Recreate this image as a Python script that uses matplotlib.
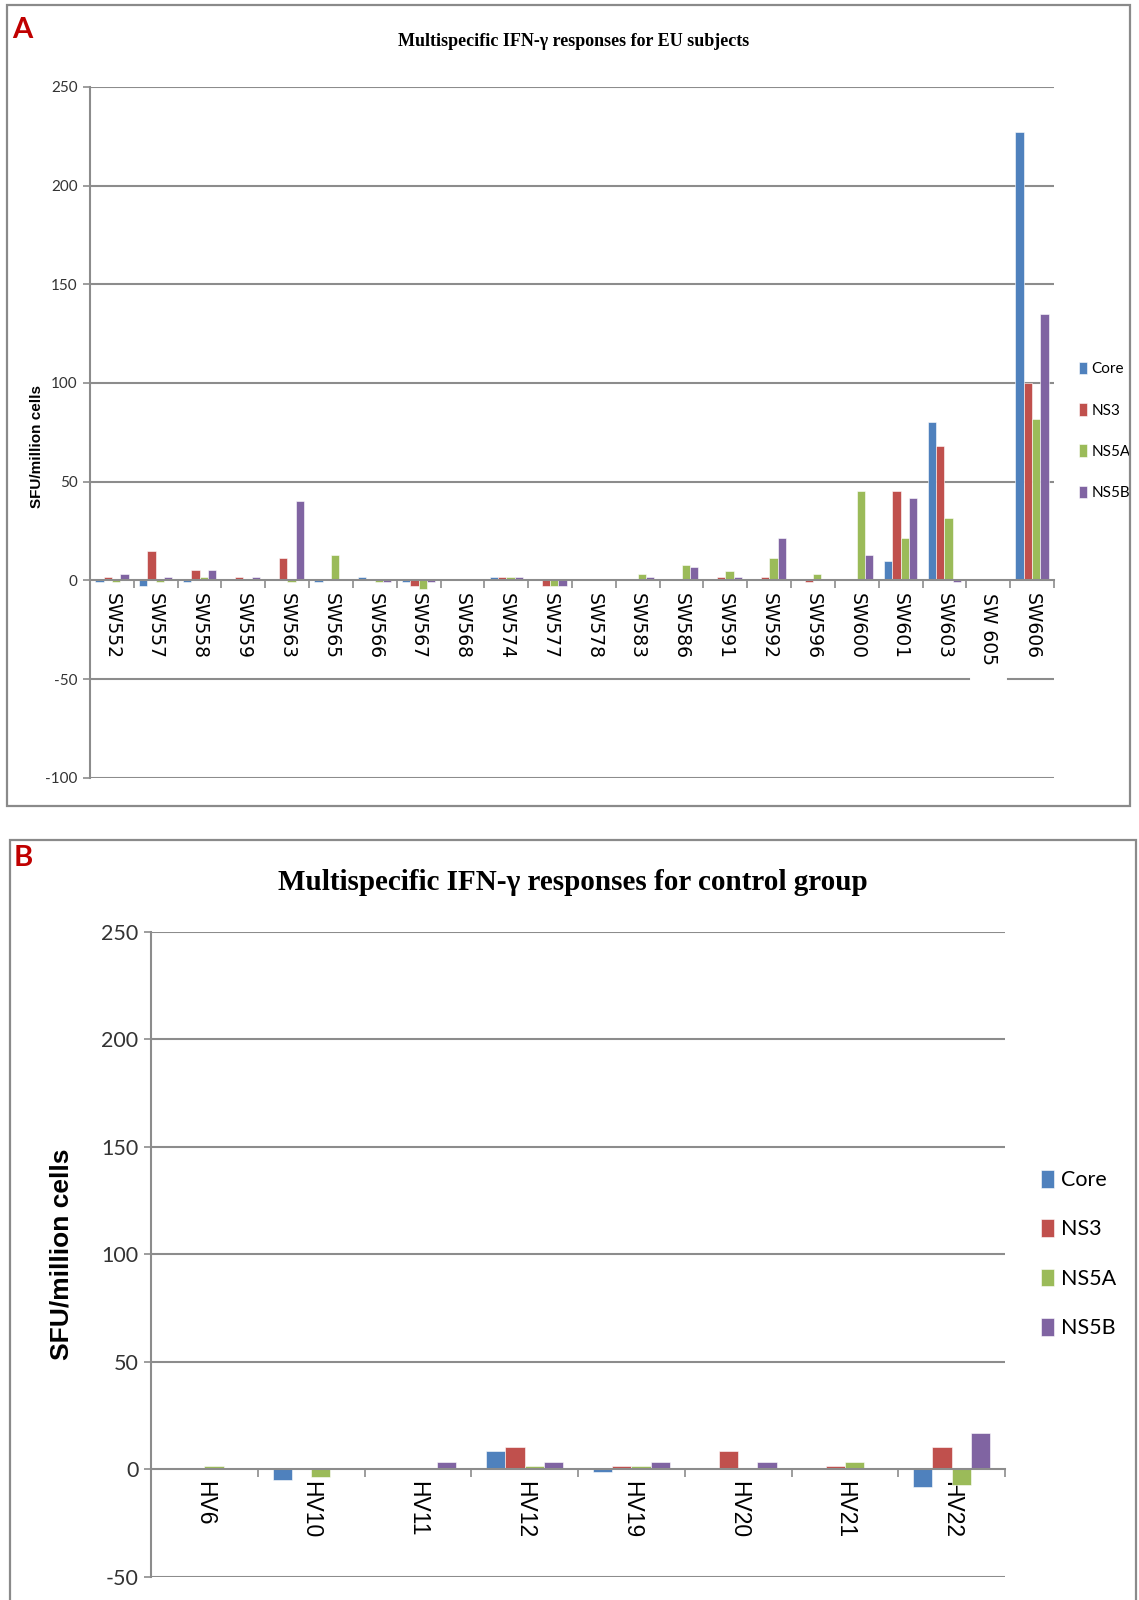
import matplotlib
matplotlib.use("Agg")
import matplotlib.pyplot as plt
import numpy as np
from matplotlib.patches import Rectangle

# ---- data -------------------------------------------------------------
series = ["Core", "NS3", "NS5A", "NS5B"]
colors = ["#4F81BD", "#C0504D", "#9BBB59", "#8064A2"]

eu_subjects = ["SW552", "SW557", "SW558", "SW559", "SW563", "SW565", "SW566",
               "SW567", "SW568", "SW574", "SW577", "SW578", "SW583", "SW586",
               "SW591", "SW592", "SW596", "SW600", "SW601", "SW603", "SW 605",
               "SW606"]
eu_core = [-1, -3, -1, 0, 0, -1, 1.5, -1, 0, 1.5, 0, 0, 0, 0,
           0, 0, 0, 0, 10, 80, 0, 227]
eu_ns3 = [1.5, 15, 5, 1.5, 11.5, 0, 0, -3, 0, 1.5, -3, 0, 0, 0,
          1.5, 1.5, -1, 0, 45, 68, 0, 100]
eu_ns5a = [-1, -1, 1.5, 0, -1, 13, -1, -4.5, 0, 1.5, -3, 0, 3, 8,
           4.7, 11.5, 3, 45, 21.5, 31.5, 0, 81.5]
eu_ns5b = [3, 1.5, 5, 1.5, 40, 0, -1, -1, 0, 1.5, -3, 0, 1.5, 6.5,
           1.5, 21.5, 0, 13, 41.5, -1, 0, 135]

hv_subjects = ["HV6", "HV10", "HV11", "HV12", "HV19", "HV20", "HV21", "HV22"]
hv_core = [0, -5, 0, 8.5, -1, 0, 0, -8]
hv_ns3 = [0, 0, 0, 10.3, 1.5, 8.5, 1.5, 10.3]
hv_ns5a = [1.5, -3.4, 0, 1.5, 1.5, 0, 3.6, -7]
hv_ns5b = [0, 0, 3.6, 3.6, 3.6, 3.6, 0, 17]

eu_ticks = [-100, -50, 0, 50, 100, 150, 200, 250]
hv_ticks = [-50, 0, 50, 100, 150, 200, 250]

W, H = 1139, 1600
fig = plt.figure(figsize=(W / 100, H / 100), dpi=100)

NARROW = ["Lato", "DejaVu Sans"]
SANS = ["Liberation Sans", "DejaVu Sans"]
VERD = ["DejaVu Sans"]
SERIF = ["Liberation Serif", "DejaVu Serif"]
GRID = "#8C8C8C"


def fx(px):
    return px / W


def fy(py):
    return 1 - py / H


# panel frames
for (x0, y0, x1, y1) in [(7, 5, 1130, 806), (10, 840, 1136, 1640)]:
    fig.patches.append(Rectangle((fx(x0), fy(y1)), fx(x1 - x0), fy(y0) - fy(y1),
                                 transform=fig.transFigure, fill=False,
                                 edgecolor="#8A8A8A", linewidth=1.6, zorder=0))


def draw_panel(ax, cats, values, yticks, bar_w, tick_fs, xlab_fs, xlab_family,
               xlab_pad, label_gap=None):
    n = len(cats)
    x = np.arange(n)
    offsets = (np.arange(4) - 1.5) * bar_w
    for k, (vals, c) in enumerate(zip(values, colors)):
        ax.bar(x + offsets[k], vals, width=bar_w, color=c, edgecolor="white",
               linewidth=0.4, zorder=3, label=series[k])
    ax.set_xlim(-0.5, n - 0.5)
    ax.set_ylim(yticks[0], yticks[-1])
    ax.set_yticks(yticks)
    ax.set_yticklabels([str(t) for t in yticks], fontsize=tick_fs,
                       family=NARROW, color="#333333")
    for t in yticks:
        if t == 0:
            continue
        if label_gap is not None and t == label_gap[0]:
            # the gridline is interrupted behind the wide category label
            i, half = label_gap[1], label_gap[2]
            ax.axhline(t, 0, (i + 0.5 - half) / n, color=GRID, linewidth=1.5,
                       zorder=1)
            ax.axhline(t, (i + 0.5 + half) / n, 1, color=GRID, linewidth=1.5,
                       zorder=1)
        else:
            ax.axhline(t, color=GRID, linewidth=1.5, zorder=1)
    for s in ["top", "right"]:
        ax.spines[s].set_visible(False)
    ax.spines["bottom"].set_position(("data", 0))
    ax.spines["bottom"].set_color(GRID)
    ax.spines["bottom"].set_linewidth(1.5)
    ax.spines["bottom"].set_zorder(4)
    ax.spines["left"].set_color(GRID)
    ax.spines["left"].set_linewidth(1.5)
    ax.tick_params(axis="y", length=5, color=GRID, width=1.2, pad=4)
    # category boundary ticks (major) and centred labels (minor)
    ax.set_xticks(np.arange(n + 1) - 0.5)
    ax.set_xticklabels([])
    ax.tick_params(axis="x", which="major", length=6, color=GRID, width=1.2,
                   direction="out")
    ax.set_xticks(x, minor=True)
    ax.set_xticklabels(cats, minor=True, rotation=270, fontsize=xlab_fs,
                       family=xlab_family, va="top", ha="center")
    ax.tick_params(axis="x", which="minor", length=0, pad=xlab_pad)
    return ax


# ---- panel A ----------------------------------------------------------
axA = fig.add_axes([fx(90), fy(777.7), fx(1054 - 90), fy(86.8) - fy(777.7)])
draw_panel(axA, eu_subjects, [eu_core, eu_ns3, eu_ns5a, eu_ns5b], eu_ticks,
           0.19, 11, 13.5, VERD, 9,
           label_gap=(-50, eu_subjects.index("SW 605"), 0.45))
axA.set_ylabel("SFU/million cells", fontsize=11, fontweight="bold",
               family=SANS)
axA.yaxis.set_label_coords((44 - 90) / (1054 - 90), 0.479)
fig.text(fx(574), fy(42), "Multispecific IFN-\u03b3 responses for EU subjects",
         ha="center", va="center", fontsize=13, fontweight="bold",
         family=SERIF)
fig.text(fx(12), fy(30), "A", ha="left", va="center", fontsize=21,
         fontweight="bold", color="#C00000", family=NARROW)
axA.legend(loc="center left", bbox_to_anchor=(fx(1071), fy(431)),
           bbox_transform=fig.transFigure, frameon=False,
           handlelength=0.55, handleheight=0.9, handletextpad=0.3,
           labelspacing=1.75, borderpad=0,
           prop={"family": NARROW, "size": 11})

# ---- panel B ----------------------------------------------------------
axB = fig.add_axes([fx(151), fy(1577), fx(1005 - 151), fy(931.8) - fy(1577)])
draw_panel(axB, hv_subjects, [hv_core, hv_ns3, hv_ns5a, hv_ns5b], hv_ticks,
           0.18, 15.5, 16.5, SANS, 8)
axB.set_ylabel("SFU/million cells", fontsize=19, fontweight="bold",
               family=SANS)
axB.yaxis.set_label_coords((73 - 151) / (1005 - 151), 0.5)
fig.text(fx(573), fy(883), "Multispecific IFN-\u03b3 responses for control group",
         ha="center", va="center", fontsize=21, fontweight="bold",
         family=SERIF)
fig.text(fx(14), fy(858), "B", ha="left", va="center", fontsize=21,
         fontweight="bold", color="#C00000", family=NARROW)
axB.legend(loc="center left", bbox_to_anchor=(fx(1030), fy(1254)),
           bbox_transform=fig.transFigure, frameon=False,
           handlelength=0.6, handleheight=0.9, handletextpad=0.35,
           labelspacing=1.35, borderpad=0,
           prop={"family": NARROW, "size": 15.5})

fig.savefig("out.png", dpi=100, facecolor="white")
